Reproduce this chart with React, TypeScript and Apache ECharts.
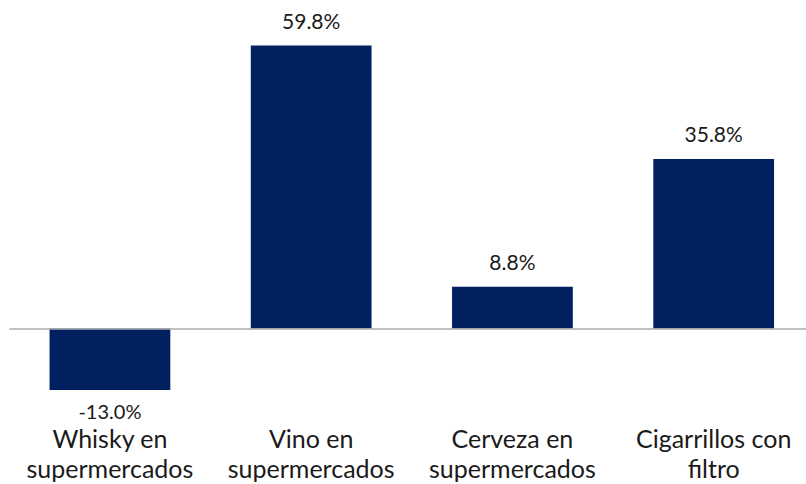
import React, { useEffect, useRef } from "react";
import * as echarts from "echarts";

const categories = [
  "Whisky en\nsupermercados",
  "Vino en\nsupermercados",
  "Cerveza en\nsupermercados",
  "Cigarrillos con\nfiltro",
];
const values = [-13.0, 59.8, 8.8, 35.8];

const FONT = "Lato, 'Noto Sans', sans-serif";

export default function App() {
  const ref = useRef<HTMLDivElement>(null);
  useEffect(() => {
    if (!ref.current) return;
    const chart = echarts.init(ref.current, null, { renderer: "svg" });
    chart.setOption({
      animation: false,
      grid: { left: 9.3, right: -8.3, top: 21, height: 402, containLabel: false, outerBoundsMode: "none" },
      xAxis: {
        type: "category",
        data: categories,
        position: "bottom",
        axisLine: { show: false, onZero: false },
        axisTick: { show: false },
        axisLabel: {
          interval: 0,
          fontFamily: FONT,
          fontSize: 25,
          lineHeight: 30,
          color: "#1a1a1a",
          margin: 0,
          verticalAlign: "top",
        },
      },
      yAxis: {
        type: "value",
        min: -20,
        max: 65,
        show: false,
        splitLine: { show: false },
      },
      series: [
        {
          type: "bar",
          data: values.map((v) => ({
            value: v,
            label: {
              show: true,
              position: v < 0 ? "bottom" : "top",
              distance: v < 0 ? 14 : 14.5,
              lineHeight: v < 0 ? 14 : 22,
              fontSize: v < 0 ? 20 : 21,
            },
          })),
          barWidth: "60%",
          itemStyle: { color: "#002060" },
          label: {
            show: true,
            fontFamily: FONT,
            fontSize: 21,
            color: "#1a1a1a",
            formatter: (p: any) => p.value.toFixed(1) + "%",
          },
          markLine: {
            silent: true,
            symbol: "none",
            label: { show: false },
            lineStyle: { color: "#ababab", width: 1.5, type: "solid" },
            data: [{ yAxis: 0 }],
          },
        },
      ],
    });
    return () => chart.dispose();
  }, []);
  return <div ref={ref} style={{ width: 806, height: 484, position: "absolute", left: 0, top: 0 }} />;
}
